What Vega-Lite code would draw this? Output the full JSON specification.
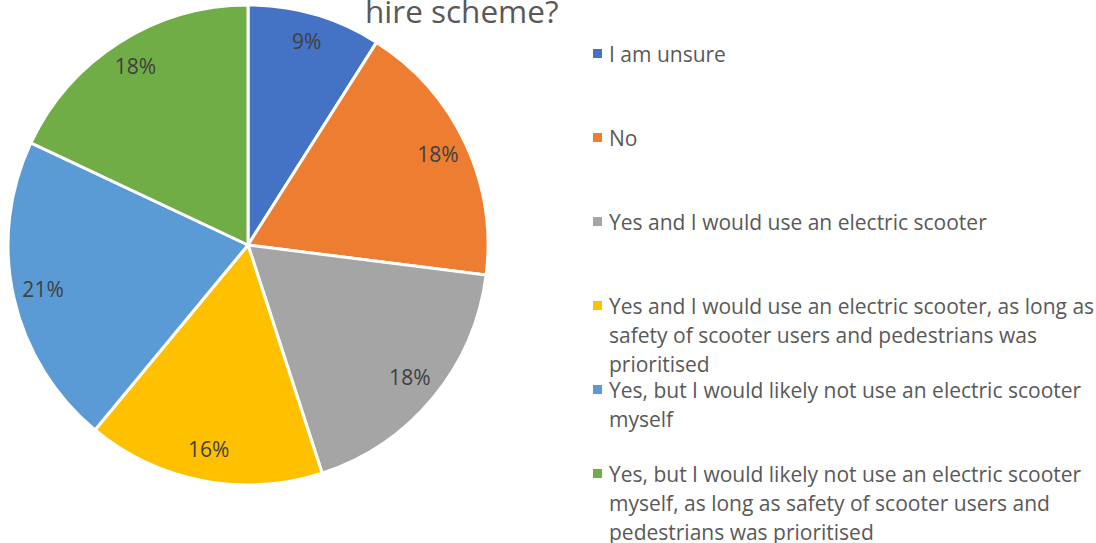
{
  "$schema": "https://vega.github.io/schema/vega-lite/v6.json",
  "width": 480,
  "height": 480,
  "autosize": {"type": "none"},
  "padding": {"left": 8, "top": 5, "right": 608, "bottom": 58},
  "background": "white",
  "title": {
    "text": "hire scheme?",
    "anchor": "start",
    "frame": "group",
    "dx": 357,
    "dy": 55,
    "offset": 0,
    "baseline": "alphabetic",
    "font": "Open Sans",
    "fontSize": 31.5,
    "fontWeight": "normal",
    "color": "#595959"
  },
  "data": {
    "values": [
      {"answer": "I am unsure", "order": 1, "pct": 0.09},
      {"answer": "No", "order": 2, "pct": 0.18},
      {"answer": "Yes and I would use an electric scooter", "order": 3, "pct": 0.18},
      {"answer": "Yes and I would use an electric scooter, as long as\nsafety of scooter users and pedestrians was\nprioritised", "order": 4, "pct": 0.16},
      {"answer": "Yes, but I would likely not use an electric scooter\nmyself", "order": 5, "pct": 0.21},
      {"answer": "Yes, but I would likely not use an electric scooter\nmyself, as long as safety of scooter users and\npedestrians was prioritised", "order": 6, "pct": 0.18}
    ]
  },
  "encoding": {
    "theta": {"field": "pct", "type": "quantitative", "stack": true},
    "order": {"field": "order", "type": "quantitative"},
    "color": {
      "field": "answer",
      "type": "nominal",
      "sort": {"field": "order"},
      "scale": {
        "domain": [
          "I am unsure",
          "No",
          "Yes and I would use an electric scooter",
          "Yes and I would use an electric scooter, as long as\nsafety of scooter users and pedestrians was\nprioritised",
          "Yes, but I would likely not use an electric scooter\nmyself",
          "Yes, but I would likely not use an electric scooter\nmyself, as long as safety of scooter users and\npedestrians was prioritised"
        ],
        "range": ["#4472C4", "#ED7D31", "#A5A5A5", "#FFC000", "#5B9BD5", "#70AD47"]
      },
      "legend": {
        "title": null,
        "orient": "none",
        "legendX": 579,
        "legendY": 38,
        "columns": 1,
        "gridAlign": "all",
        "symbolType": "square",
        "symbolSize": 81,
        "symbolStrokeWidth": 0,
        "labelExpr": "split(datum.label, '\\n')",
        "labelFont": "Open Sans",
        "labelFontSize": 21,
        "labelColor": "#595959",
        "labelBaseline": "top",
        "labelOffset": 1,
        "labelLimit": 600,
        "rowPadding": 3,
        "padding": 0
      }
    }
  },
  "layer": [
    {"mark": {"type": "arc", "stroke": "white", "strokeWidth": 3}},
    {
      "mark": {"type": "text", "radius": 210, "font": "Open Sans", "fontSize": 21},
      "encoding": {
        "text": {"field": "pct", "type": "quantitative", "format": ".0%"},
        "color": {"value": "#404040"}
      }
    }
  ],
  "config": {
    "view": {"stroke": null},
    "style": {"guide-label": {"lineHeight": 29, "dy": -9}}
  }
}
